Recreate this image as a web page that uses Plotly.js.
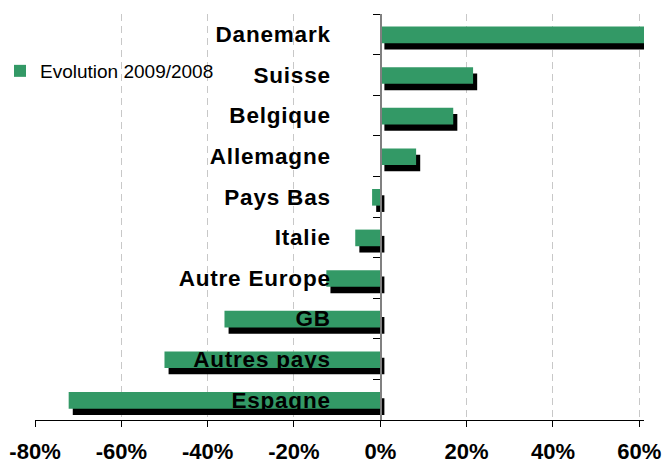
<!DOCTYPE html>
<html>
<head>
<meta charset="utf-8">
<script src="https://cdn.plot.ly/plotly-3.0.1.min.js"></script>
<style>
  html, body { margin: 0; padding: 0; background: #fff; }
  #chart { width: 664px; height: 462px; }
  .ytick text { letter-spacing: 0.8px; }
</style>
</head>
<body>
<div id="chart"></div>
<script>
// ---- data ----
const categories = ['Danemark', 'Suisse', 'Belgique', 'Allemagne', 'Pays Bas', 'Italie', 'Autre Europe', 'GB', 'Autres pays', 'Espagne'];
const evolution = [61.1, 21.5, 16.9, 8.3, -1.9, -5.8, -12.5, -36.1, -50.0, -72.2];
const xTickValues = [-80, -60, -40, -20, 0, 20, 40, 60];
const xTickLabels = ['-80%', '-60%', '-40%', '-20%', '0%', '20%', '40%', '60%'];
const seriesName = 'Evolution 2009/2008';

// ---- style ----
const GREEN = '#339966';
const FONT = 'Arial, "Liberation Sans", sans-serif';
const X_MIN = -80, X_MAX = 61.1;
const SHADOW_DX = 0.95;   // shadow shift in axis units (~4px)

const shadow = {
  type: 'bar', orientation: 'h',
  y: categories, x: evolution,
  base: categories.map(() => SHADOW_DX),
  offset: -0.035, width: 0.41,
  marker: { color: '#000000', line: { width: 0 } },
  showlegend: false, hoverinfo: 'skip'
};
const main = {
  type: 'bar', orientation: 'h', name: seriesName,
  y: categories, x: evolution,
  offset: -0.19, width: 0.41,
  marker: { color: GREEN, line: { width: 0 } },
  showlegend: true
};

const layout = {
  width: 664, height: 462,
  margin: { l: 35, r: 20, t: 14, b: 42, pad: 0, autoexpand: false },
  paper_bgcolor: '#ffffff', plot_bgcolor: '#ffffff',
  barmode: 'overlay',
  font: { family: FONT, color: '#000000' },
  showlegend: true,
  legend: {
    xref: 'container', yref: 'container',
    x: 0, xanchor: 'left', y: 1 - 71 / 462, yanchor: 'middle',
    bgcolor: 'rgba(0,0,0,0)', borderwidth: 0,
    font: { family: FONT, size: 19, color: '#000000' }
  },
  xaxis: {
    range: [X_MIN, X_MAX],
    tickmode: 'array', tickvals: xTickValues, ticktext: xTickLabels,
    showgrid: true, gridcolor: '#c8c8c8', gridwidth: 1, griddash: '7px,5px',
    zeroline: false,
    showline: true, linecolor: '#000000', linewidth: 1,
    ticks: 'outside', ticklen: 6, tickcolor: '#000000', tickwidth: 1,
    ticklabelstandoff: 6,
    tickfont: { family: FONT, size: 22, weight: 'bold', color: '#000000' },
    fixedrange: true
  },
  yaxis: {
    type: 'category',
    categoryorder: 'array', categoryarray: categories,
    range: [categories.length - 0.5, -0.5],
    anchor: 'free', position: (0 - X_MIN) / (X_MAX - X_MIN),
    showgrid: false, zeroline: false,
    showline: true, linecolor: '#808080', linewidth: 1.5,
    ticks: 'outside', tickson: 'boundaries', ticklen: 7, tickcolor: '#000000', tickwidth: 1,
    ticklabelstandoff: 45,
    tickfont: { family: FONT, size: 22.5, weight: 'bold', color: '#000000' },
    fixedrange: true
  }
};

Plotly.newPlot('chart', [shadow, main], layout, { staticPlot: true, displayModeBar: false });
</script>
</body>
</html>
